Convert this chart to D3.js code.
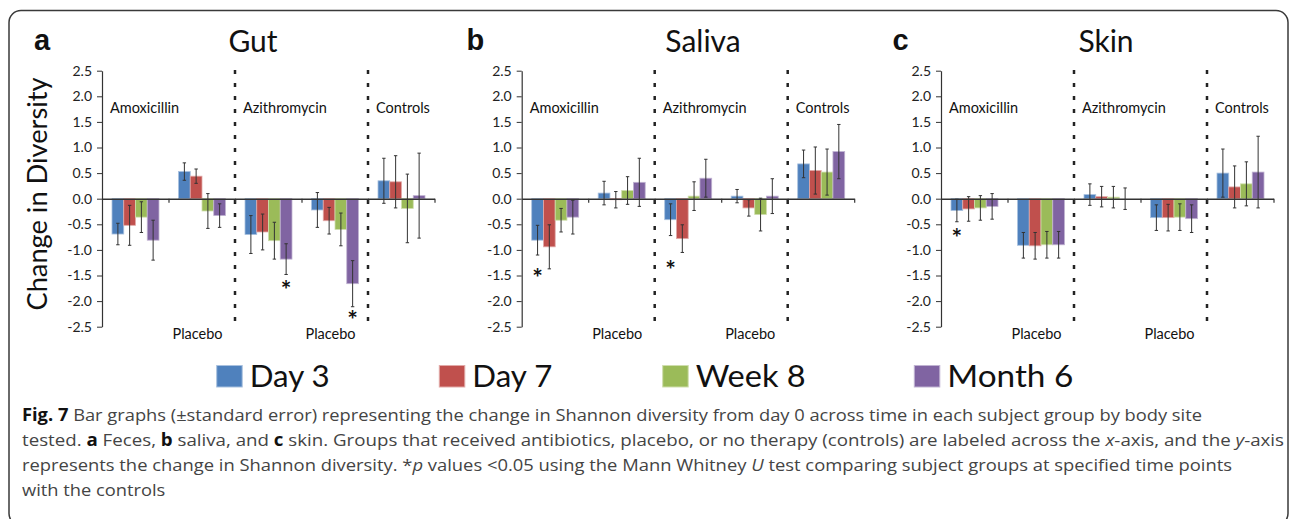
<!DOCTYPE html>
<html><head><meta charset="utf-8">
<script src="https://cdn.jsdelivr.net/npm/d3@7"></script>
<style>body{margin:0;background:#fff} svg{display:block}</style>
</head><body>
<svg id="c" width="1290" height="519"></svg>
<script>
// ---------------- data ----------------
const sites = ["Gut", "Saliva", "Skin"];
const panelLetters = ["a", "b", "c"];
const groups = ["Amoxicillin", "Placebo", "Azithromycin", "Placebo", "Controls"];
const series = ["Day 3", "Day 7", "Week 8", "Month 6"];
const yTicks = [2.5, 2.0, 1.5, 1.0, 0.5, 0.0, -0.5, -1.0, -1.5, -2.0, -2.5];

// means [group][series]
const gutMeans = [
  [-0.69, -0.52, -0.36, -0.81],
  [ 0.53,  0.44, -0.24, -0.33],
  [-0.70, -0.65, -0.82, -1.18],
  [-0.22, -0.43, -0.60, -1.66],
  [ 0.35,  0.33, -0.19,  0.06]
];
const gutErrors = [
  [0.21, 0.39, 0.30, 0.39],
  [0.17, 0.14, 0.34, 0.23],
  [0.37, 0.35, 0.36, 0.30],
  [0.34, 0.26, 0.32, 0.45],
  [0.44, 0.51, 0.67, 0.83]
];
const salivaMeans = [
  [-0.81, -0.94, -0.42, -0.36],
  [ 0.11, -0.02,  0.16,  0.32],
  [-0.41, -0.78,  0.05,  0.40],
  [ 0.05, -0.18, -0.31,  0.05],
  [ 0.68,  0.55,  0.52,  0.92]
];
const salivaErrors = [
  [0.29, 0.43, 0.23, 0.33],
  [0.23, 0.16, 0.27, 0.47],
  [0.31, 0.27, 0.28, 0.37],
  [0.13, 0.16, 0.32, 0.34],
  [0.27, 0.46, 0.45, 0.53]
];
const skinMeans = [
  [-0.23, -0.20, -0.18, -0.15],
  [-0.91, -0.92, -0.90, -0.90],
  [ 0.08,  0.04,  0.03,  0.00],
  [-0.37, -0.37, -0.36, -0.39],
  [ 0.50,  0.23,  0.29,  0.52]
];
const skinErrors = [
  [0.22, 0.24, 0.24, 0.25],
  [0.25, 0.26, 0.26, 0.26],
  [0.21, 0.20, 0.21, 0.21],
  [0.25, 0.26, 0.26, 0.27],
  [0.47, 0.41, 0.43, 0.70]
];
// significance markers: site, group, series, value where the "*" sits
const sigSite   = [0, 0, 1, 1, 2];
const sigGroup  = [2, 3, 0, 2, 0];
const sigSeries = [3, 3, 0, 0, 0];
const sigValue  = [-1.70, -2.30, -1.48, -1.31, -0.69];

// ---------------- style / layout ----------------
const colors = ["#4f81bd", "#c0504d", "#9bbb59", "#8064a2"];
const edges  = ["#a9c1df", "#e2aaa8", "#cfdead", "#c0b3d2"];
const means = [gutMeans, salivaMeans, skinMeans];
const errs  = [gutErrors, salivaErrors, skinErrors];
const panelLeft = [102, 521.7, 941];
const plotW = 332.5;
const font = "Lato, 'Open Sans', sans-serif";

const svg = d3.select("#c");

// frame
svg.append("rect").attr("x", 9).attr("y", 10.5).attr("width", 1279).attr("height", 515)
  .attr("rx", 12).attr("fill", "none").attr("stroke", "#3a3a3a").attr("stroke-width", 1.5);

const y = d3.scaleLinear().domain([-2.5, 2.5]).range([326.7, 70.7]);

// y-axis title
svg.append("text").attr("transform", "translate(47,194) rotate(-90)")
  .attr("text-anchor", "middle").attr("font-family", font).attr("font-size", 27)
  .attr("textLength", 233).attr("lengthAdjust", "spacingAndGlyphs")
  .attr("fill", "#111").text("Change in Diversity");

const titleCenters = [253, 703, 1106];
const letterX = [34, 466.5, 892.5];

sites.forEach((site, si) => {
  const x0 = panelLeft[si];
  const g = svg.append("g");
  const xg = d3.scaleBand().domain(d3.range(groups.length)).range([x0, x0 + plotW]).padding(0);
  const xs = d3.scaleBand().domain(d3.range(series.length)).range([10, 57]).padding(0);

  // title & letter
  g.append("text").attr("x", titleCenters[si]).attr("y", 51.7).attr("text-anchor", "middle")
    .attr("font-family", font).attr("font-size", 30).attr("fill", "#111").text(site);
  g.append("text").attr("x", letterX[si]).attr("y", 50)
    .attr("font-family", "'Liberation Sans', Arial, sans-serif").attr("font-weight", "bold")
    .attr("font-size", 29).attr("fill", "#111").text(panelLetters[si]);

  // y axis
  const ya = g.append("g").attr("transform", `translate(${x0},0)`)
    .call(d3.axisLeft(y).tickValues(yTicks).tickSize(5).tickSizeOuter(0).tickPadding(5)
      .tickFormat(d => d.toFixed(1)));
  ya.select(".domain").attr("stroke", "#333").attr("stroke-width", 1.2);
  ya.selectAll(".tick line").attr("stroke", "#333");
  ya.selectAll(".tick text").attr("font-family", font).attr("font-size", 14).attr("fill", "#222");

  // dotted separators
  [2, 4].forEach(k => {
    g.append("line").attr("x1", xg(k)).attr("x2", xg(k)).attr("y1", 70).attr("y2", 323)
      .attr("stroke", "#222").attr("stroke-width", 2.5).attr("stroke-dasharray", "4,9");
  });

  // bars
  groups.forEach((gr, gi) => {
    series.forEach((s, k) => {
      const v = means[si][gi][k];
      const bx = xg(gi) + xs(k);
      g.append("rect").attr("x", bx).attr("width", xs.bandwidth())
        .attr("y", y(Math.max(0, v))).attr("height", Math.abs(y(v) - y(0)))
        .attr("fill", colors[k]).attr("stroke", edges[k]).attr("stroke-width", 0.8);
    });
  });

  // x axis line
  const xl = d3.scaleLinear().domain([0, groups.length]).range([x0, x0 + plotW]);
  const xa = g.append("g").attr("transform", `translate(0,${y(0)})`)
    .call(d3.axisBottom(xl).tickValues(d3.range(1, groups.length + 1)).tickSize(4).tickSizeOuter(0).tickFormat(""));
  xa.select(".domain").attr("stroke", "#333").attr("stroke-width", 1.5);
  xa.selectAll(".tick line").attr("stroke", "#333").attr("stroke-width", 1.2);

  // error bars
  groups.forEach((gr, gi) => {
    series.forEach((s, k) => {
      const v = means[si][gi][k], e = errs[si][gi][k];
      const cx = xg(gi) + xs(k) + xs.bandwidth() / 2;
      const eb = g.append("g").attr("stroke", "#333").attr("stroke-width", 1);
      eb.append("line").attr("x1", cx).attr("x2", cx).attr("y1", y(v + e)).attr("y2", y(v - e));
      eb.append("line").attr("x1", cx - 1.7).attr("x2", cx + 1.7).attr("y1", y(v + e)).attr("y2", y(v + e));
      eb.append("line").attr("x1", cx - 1.7).attr("x2", cx + 1.7).attr("y1", y(v - e)).attr("y2", y(v - e));
    });
  });

  // group labels
  groups.forEach((gr, gi) => {
    const bottom = gr === "Placebo";
    g.append("text").attr("x", xg(gi) + (bottom ? 4 : 8)).attr("y", bottom ? 338.5 : 113)
      .attr("font-family", font).attr("font-size", 14.5).attr("fill", "#111").text(gr);
  });

  // significance markers
  sigSite.forEach((ss, i) => {
    if (ss !== si) return;
    const cx = xg(sigGroup[i]) + xs(sigSeries[i]) + xs.bandwidth() / 2;
    g.append("text").attr("x", cx).attr("y", y(sigValue[i]) + 13).attr("text-anchor", "middle")
      .attr("font-family", font).attr("font-weight", "bold").attr("font-size", 25).attr("fill", "#111").text("*");
  });
});

// legend
const legendX = [216.7, 439.3, 662.7, 914.3];
const legendTextW = [80, 80, 110, 126];
series.forEach((s, k) => {
  svg.append("rect").attr("x", legendX[k]).attr("y", 365.5).attr("width", 25.5).attr("height", 21.5)
    .attr("fill", colors[k]).attr("stroke", edges[k]).attr("stroke-width", 1);
  svg.append("text").attr("x", legendX[k] + 33).attr("y", 387.3)
    .attr("font-family", font).attr("font-size", 30).attr("fill", "#111")
    .attr("textLength", legendTextW[k]).attr("lengthAdjust", "spacingAndGlyphs").text(s);
});

// caption
const capFont = "'Open Sans', 'Noto Sans', sans-serif";
const captionLines = [
  [["b", "Fig. 7"], ["n", " Bar graphs (±standard error) representing the change in Shannon diversity from day 0 across time in each subject group by body site"]],
  [["n", "tested. "], ["b", "a"], ["n", " Feces, "], ["b", "b"], ["n", " saliva, and "], ["b", "c"], ["n", " skin. Groups that received antibiotics, placebo, or no therapy (controls) are labeled across the "], ["i", "x"], ["n", "-axis, and the "], ["i", "y"], ["n", "-axis"]],
  [["n", "represents the change in Shannon diversity. *"], ["i", "p"], ["n", " values <0.05 using the Mann Whitney "], ["i", "U"], ["n", " test comparing subject groups at specified time points"]],
  [["n", "with the controls"]]
];
const captionW = [1180, 1262, 1210, null];
const capTexts = captionLines.map((parts, li) => {
  const t = svg.append("text").attr("x", 22).attr("y", 421 + li * 25)
    .attr("font-family", capFont).attr("font-size", 17).attr("fill", "#444");
  parts.forEach(([st, txt]) => {
    const sp = t.append("tspan").text(txt);
    if (st === "b") sp.attr("font-weight", "bold").attr("fill", "#111");
    if (st === "i") sp.attr("font-style", "italic");
  });
  return t;
});
const natural = capTexts.map(t => t.node().getComputedTextLength());
const factor = captionW[0] / natural[0];
capTexts.forEach((t, li) => {
  const w = captionW[li] != null ? captionW[li] : natural[li] * factor;
  t.attr("textLength", w).attr("lengthAdjust", "spacingAndGlyphs");
});
</script>
</body></html>
